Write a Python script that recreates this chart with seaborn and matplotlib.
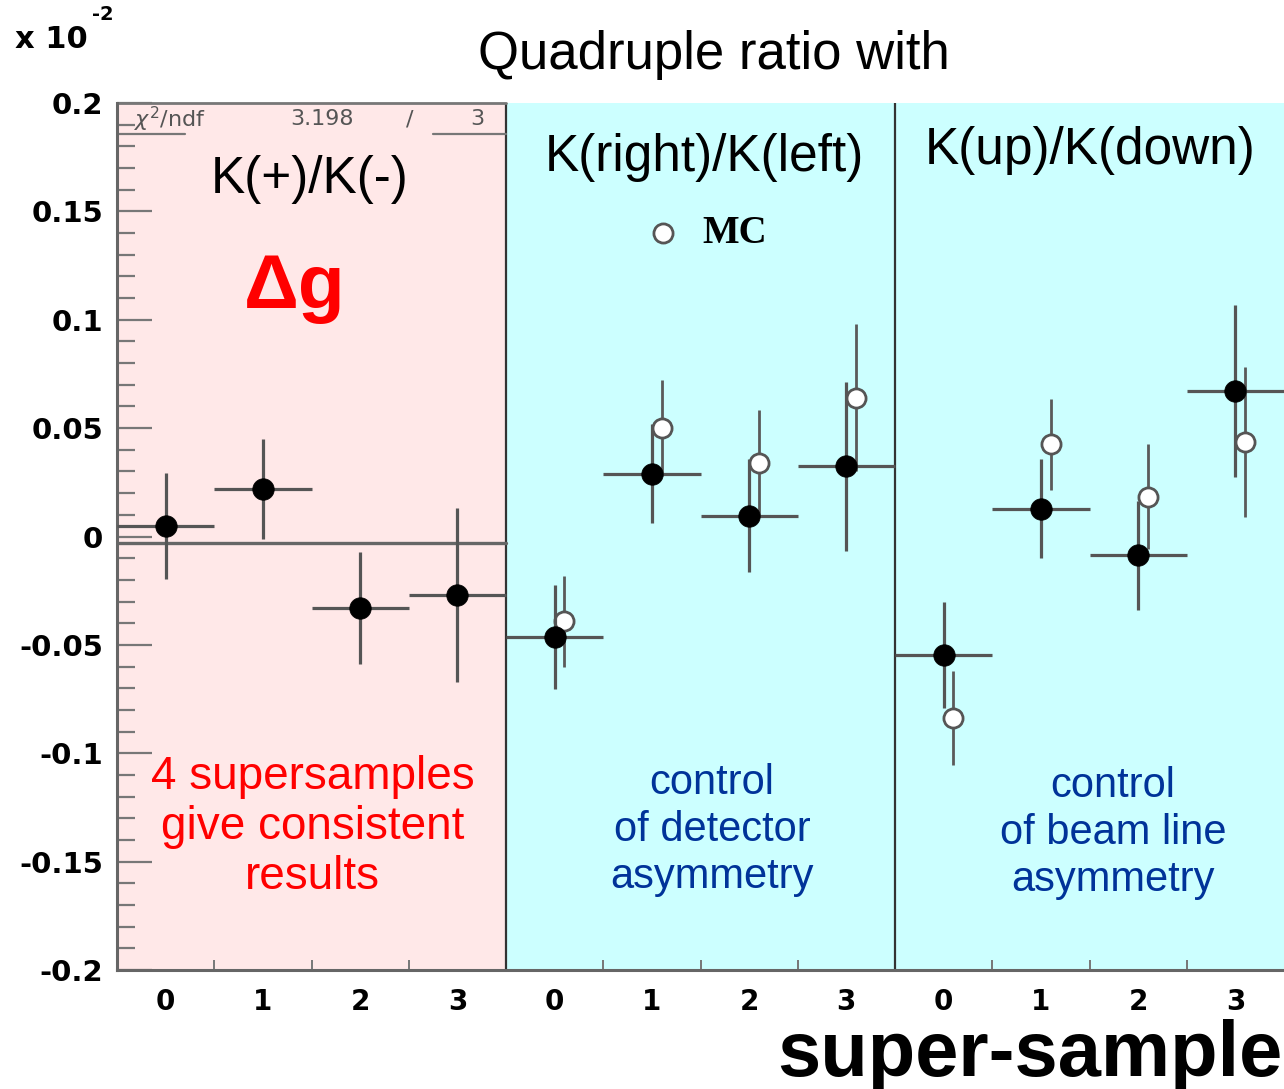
import numpy as np
import pandas as pd
import matplotlib
matplotlib.use("Agg")
import matplotlib.pyplot as plt
import seaborn as sns

# ---------------- data ----------------
samples = [0, 1, 2, 3]
ratios = ["K(+)/K(-)", "K(right)/K(left)", "K(up)/K(down)"]

data_pm = [0.005, 0.022, -0.033, -0.027]
err_pm = [0.0245, 0.023, 0.026, 0.040]

data_rl = [-0.0465, 0.029, 0.0096, 0.0325]
err_rl = [0.024, 0.0228, 0.026, 0.039]
mc_rl = [-0.039, 0.050, 0.034, 0.064]
mcerr_rl = [0.021, 0.022, 0.0245, 0.034]

data_ud = [-0.0547, 0.0128, -0.0087, 0.067]
err_ud = [0.0246, 0.0229, 0.0252, 0.0396]
mc_ud = [-0.0836, 0.0425, 0.0184, 0.0437]
mcerr_ud = [0.0217, 0.021, 0.0243, 0.0345]

fit_const = -0.003
chi2_text = "3.198"
ndf_text = "3"

yticks = [-0.2, -0.15, -0.1, -0.05, 0, 0.05, 0.1, 0.15, 0.2]
ytick_labels = ["-0.2", "-0.15", "-0.1", "-0.05", "0", "0.05", "0.1", "0.15", "0.2"]

# ---------------- tables ----------------
rows = []
for p, (vals, errs) in enumerate([(data_pm, err_pm), (data_rl, err_rl), (data_ud, err_ud)]):
    for s, v, e in zip(samples, vals, errs):
        rows.append(dict(x=4 * p + s + 0.5, y=v, err=e, kind="data"))
for p, (vals, errs) in enumerate([(mc_rl, mcerr_rl), (mc_ud, mcerr_ud)], start=1):
    for s, v, e in zip(samples, vals, errs):
        rows.append(dict(x=4 * p + s + 0.6, y=v, err=e, kind="MC"))
df = pd.DataFrame(rows)
d_data = df[df.kind == "data"]
d_mc = df[df.kind == "MC"]

# ---------------- style ----------------
sns.set_theme(style="white")
plt.rcParams['font.family'] = ['Liberation Sans', 'DejaVu Sans']
plt.rcParams['text.color'] = 'black'
plt.rcParams['xtick.color'] = 'black'
plt.rcParams['ytick.color'] = 'black'
plt.rcParams['axes.labelcolor'] = 'black'

fig = plt.figure(figsize=(12.84, 10.89), dpi=100)
ax = fig.add_axes([117 / 1284, 119 / 1089, 1 - 117 / 1284, (970 - 103) / 1089])
ax.set_xlim(0, 12)
ax.set_ylim(-0.2, 0.2)

ax.axvspan(0, 4, color="#ffe8e8", zorder=0, lw=0)
ax.axvspan(4, 12, color="#ccffff", zorder=0, lw=0)
for xv in (4, 8):
    ax.axvline(xv, color="#333333", lw=1.6, zorder=1)

# fit line
ax.plot([0, 4], [fit_const, fit_const], color="#666666", lw=2.4, zorder=2)

# stats box
ax.plot([0, 4], [0.2, 0.2], color="#777777", lw=2.0, zorder=2, clip_on=False)
ax.plot([0, 0.7], [0.1857, 0.1857], color="#777777", lw=1.6, zorder=2)
ax.plot([3.25, 4], [0.1857, 0.1857], color="#777777", lw=1.6, zorder=2)
stat_kw = dict(fontsize=16, color="#555555", va="center", family=["DejaVu Sans"])
ax.text(0.17, 0.1925, r"$\chi^2$/ndf", ha="left", **stat_kw)
ax.text(2.11, 0.1925, chi2_text, ha="center", **stat_kw)
ax.text(3.01, 0.1925, "/", ha="center", **stat_kw)
ax.text(3.71, 0.1925, ndf_text, ha="center", **stat_kw)

# MC error bars + markers
ax.errorbar(d_mc.x, d_mc.y, yerr=d_mc.err, fmt="none", ecolor="#5a5a5a", elinewidth=2.0,
            capsize=0, zorder=3)
sns.scatterplot(data=d_mc, x="x", y="y", ax=ax, marker="o", s=190, facecolor="white",
                edgecolor="#555555", linewidth=2.0, zorder=4, legend=False)

# data error bars + markers
ax.errorbar(d_data.x, d_data.y, yerr=d_data.err, xerr=0.5, fmt="none", ecolor="#555555",
            elinewidth=2.3, capsize=0, zorder=5)
sns.scatterplot(data=d_data, x="x", y="y", ax=ax, marker="o", s=240, color="black",
                edgecolor="black", linewidth=0.5, zorder=6, legend=False)

# MC legend
ax.scatter([5.61], [0.140], s=190, facecolor="white", edgecolor="#555555", linewidth=2.0, zorder=6)
ax.text(6.02, 0.140, "MC", fontsize=28, fontweight="bold", va="center", ha="left",
        family=["Liberation Serif", "DejaVu Serif"])

# panel texts
ax.text(1.98, 0.1645, ratios[0], fontsize=37, ha="center", va="center")
ax.text(6.04, 0.175, ratios[1], fontsize=37, ha="center", va="center")
ax.text(10.01, 0.178, ratios[2], fontsize=37, ha="center", va="center")
ax.text(1.83, 0.1054, "Δg", fontsize=55, fontweight="bold", color="#ff0000", ha="center",
        va="baseline")

ax.text(2.01, -0.134, "4 supersamples\ngive consistent\nresults", fontsize=33, color="#ff0000",
        ha="center", va="center", linespacing=1.18)
ax.text(6.12, -0.1354, "control\nof detector\nasymmetry", fontsize=30, color="#003399",
        ha="center", va="center", linespacing=1.22)
ax.text(10.24, -0.1368, "control\nof beam line\nasymmetry", fontsize=30, color="#003399",
        ha="center", va="center", linespacing=1.22)

# axes / ticks
for side in ("top", "right"):
    ax.spines[side].set_visible(False)
ax.spines["left"].set_color("#666666")
ax.spines["left"].set_linewidth(2.2)
ax.spines["bottom"].set_color("#666666")
ax.spines["bottom"].set_linewidth(2.2)

ax.set_yticks(yticks)
ax.set_yticklabels(ytick_labels, fontsize=21, fontweight="heavy", family=["DejaVu Sans"])
ax.set_yticks(np.arange(-0.2, 0.2001, 0.01), minor=True)
ax.tick_params(axis="y", which="major", direction="in", length=25, width=1.6, color="#777777",
               labelcolor="black", pad=10, left=True)
ax.tick_params(axis="y", which="minor", direction="in", length=13, width=1.6, color="#777777",
               left=True)

xcent = [4 * p + s + 0.5 for p in range(3) for s in samples]
ax.set_xticks(xcent)
ax.set_xticklabels([str(s) for p in range(3) for s in samples], fontsize=20, fontweight="bold",
                   family=["DejaVu Sans"])
ax.set_xticks(np.arange(1, 12), minor=True)
ax.tick_params(axis="x", which="major", length=0, pad=13, bottom=True, labelcolor="black")
ax.tick_params(axis="x", which="minor", direction="in", length=7, width=1.4, color="#777777",
               bottom=True)
ax.set_xlabel("")
ax.set_ylabel("")

# figure texts
fig.text(714 / 1284, 1 - 55 / 1089, "Quadruple ratio with", fontsize=38, ha="center", va="center")
fig.text(15 / 1284, 1 - 40 / 1089, "x 10", fontsize=22, fontweight="bold", ha="left", va="center",
         family=["DejaVu Sans"])
fig.text(92 / 1284, 1 - 15 / 1089, "-2", fontsize=14, fontweight="bold", ha="left", va="center",
         family=["DejaVu Sans"])
fig.text(1283 / 1284, 1 - 1055 / 1089, "super-sample", fontsize=56, fontweight="bold",
         ha="right", va="center")

fig.savefig("out.png", dpi=100)
